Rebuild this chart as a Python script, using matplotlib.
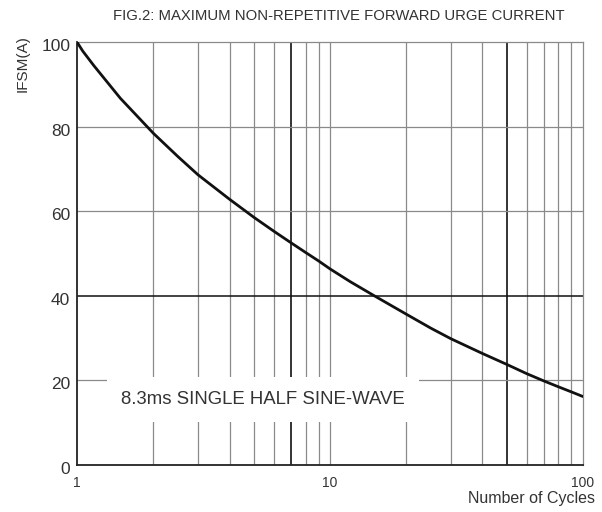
import matplotlib
matplotlib.use("Agg")
import matplotlib.pyplot as plt
from matplotlib.ticker import FixedLocator, NullFormatter, FixedFormatter
from matplotlib.transforms import ScaledTranslation

plt.rcParams['font.family'] = ['Liberation Sans', 'DejaVu Sans']

# Data
cycles = [1, 1.05, 1.16, 1.48, 2, 2.5, 3, 4, 5, 6, 7, 8, 9, 10, 12, 15, 20, 25, 30, 40,
          50, 60, 70, 80, 90, 100]
ifsm = [100, 98.0, 94.6, 86.8, 78.5, 73.0, 68.7, 62.9, 58.6, 55.3, 52.6, 50.3, 48.3, 46.4,
        43.4, 40.0, 35.7, 32.4, 29.9, 26.4, 23.8, 21.6, 19.9, 18.5, 17.3, 16.2]

y_ticks = [0, 20, 40, 60, 80, 100]
x_ticks = [1, 10, 100]
x_ticklabels = ["1", "10", "100"]
minor_grid = [2, 3, 4, 5, 6, 8, 9, 20, 30, 40, 60, 70, 80, 90]
dark_vgrid = [7, 50]
dark_hgrid = [40]
light_hgrid = [20, 60, 80]

title = "FIG.2: MAXIMUM NON-REPETITIVE FORWARD URGE CURRENT"
ylabel = "IFSM(A)"
xlabel = "Number of Cycles"
note = "8.3ms SINGLE HALF SINE-WAVE"

fig = plt.figure(figsize=(6.02, 5.12), dpi=100)
ax = fig.add_axes([0.1284, 0.0918, 0.9684 - 0.1284, 0.917 - 0.0918])
ax.set_xscale('log')
ax.set_xlim(1, 100)
ax.set_ylim(0, 100)

grid_c = '#8a8a8a'
for v in minor_grid + [10]:
    ax.axvline(v, color=grid_c, lw=0.9, zorder=1)
for v in dark_vgrid:
    ax.axvline(v, color='#111111', lw=1.2, zorder=1)
for h in light_hgrid:
    ax.axhline(h, color=grid_c, lw=0.9, zorder=1)
for h in dark_hgrid:
    ax.axhline(h, color='#111111', lw=1.1, zorder=1)

ax.plot(cycles, ifsm, color='#111111', lw=2.0, zorder=4, solid_capstyle='round',
        solid_joinstyle='round')

ax.text(5.41, 15.6, note, fontsize=13.4, color='#333333', ha='center', va='center', zorder=3,
        bbox=dict(boxstyle='square,pad=0.75', fc='white', ec='none'))

for s in ['top', 'right']:
    ax.spines[s].set_color(grid_c)
    ax.spines[s].set_linewidth(0.9)
for s in ['left', 'bottom']:
    ax.spines[s].set_color('#222222')
    ax.spines[s].set_linewidth(1.3)

ax.xaxis.set_major_locator(FixedLocator(x_ticks))
ax.xaxis.set_major_formatter(FixedFormatter(x_ticklabels))
ax.xaxis.set_minor_locator(FixedLocator([]))
ax.xaxis.set_minor_formatter(NullFormatter())
ax.set_yticks(y_ticks)
ax.tick_params(axis='both', length=0, colors='#333333')
ax.tick_params(axis='y', labelsize=12.5, pad=5)
ax.tick_params(axis='x', labelsize=10, pad=8)
offset = ScaledTranslation(0, -3 / 100, fig.dpi_scale_trans)
for lab in ax.get_yticklabels():
    lab.set_transform(lab.get_transform() + offset)

fig.text(0.563, 0.969, title, fontsize=10.7, color='#333333', ha='center', va='center')
fig.text(0.037, 0.875, ylabel, fontsize=11, color='#333333', rotation=90, ha='center', va='center')
fig.text(0.988, 0.027, xlabel, fontsize=11.5, color='#333333', ha='right', va='center')

fig.savefig('out.png', dpi=100)
